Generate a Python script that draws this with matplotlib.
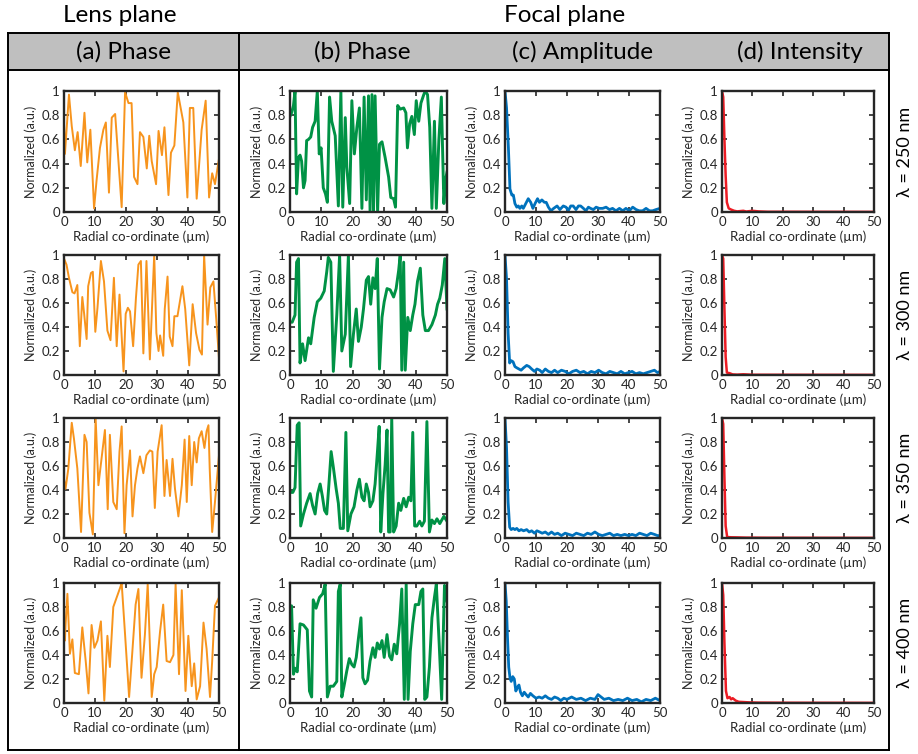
import matplotlib
matplotlib.use("Agg")
import matplotlib.pyplot as plt
from matplotlib.patches import Rectangle
from matplotlib.lines import Line2D
from matplotlib.ticker import FuncFormatter

plt.rcParams['font.family'] = ['Lato', 'DejaVu Sans']

# ---------------- data ----------------
wavelength_labels = ["λ = 250 nm", "λ = 300 nm", "λ = 350 nm", "λ = 400 nm"]
column_titles = ["(a) Phase", "(b) Phase", "(c) Amplitude", "(d) Intensity"]
group_titles = ["Lens plane", "Focal plane"]
x_label = "Radial co-ordinate (µm)"
y_label = "Normalized (a.u.)"
x_ticks = [0, 10, 20, 30, 40, 50]
y_ticks = [0, 0.2, 0.4, 0.6, 0.8, 1]

# (a) lens-plane phase
lens_x_250 = [0, 0.3, 1.6, 2.5, 3.5, 4.4, 5.4, 6.6, 7.5, 8.5, 9.7, 10.5, 11.6, 12.7, 13.5, 14.5, 15.4, 16.5, 18.6, 19.7, 20.8, 21.8, 22.6, 23.7, 24.5, 25.6, 26.7, 27.5, 28.3, 29.7, 30.5, 31.6, 32.4, 33.7, 34.5, 35.6, 36.7, 38.5, 39.8, 40.6, 41.7, 42.8, 44.4, 45.7, 46.8, 47.8, 48.7, 50]
lens_y_250 = [0.73, 0.48, 0.97, 0.71, 0.51, 0.66, 0.38, 0.82, 0.41, 0.68, 0.03, 0.26, 0.53, 0.68, 0.74, 0.16, 0.78, 0.81, 0.04, 0.99, 0.90, 0.90, 0.29, 0.23, 0.66, 0.62, 0.36, 0.63, 0.42, 0.23, 0.67, 0.47, 0.70, 0.14, 0.49, 0.55, 0.99, 0.74, 0.12, 0.86, 0.86, 0.11, 0.68, 0.92, 0.12, 0.32, 0.23, 0.44]

lens_x_300 = [0, 0.8, 1.6, 2.7, 3.4, 4.3, 5.1, 5.9, 6.5, 7.3, 7.8, 8.7, 9.3, 10.1, 10.8, 11.9, 12.9, 14.0, 15.0, 16.1, 17.0, 17.9, 19.2, 19.9, 20.6, 21.3, 22.3, 23.2, 24.0, 24.8, 25.6, 26.6, 27.7, 29.1, 29.8, 30.5, 31.0, 32.0, 32.5, 33.4, 34.1, 35.0, 35.6, 36.6, 38.2, 39.1, 40.4, 41.5, 42.6, 43.7, 44.5, 45.2, 46.3, 47.2, 48.2, 49.1, 50]
lens_y_300 = [0.97, 0.92, 0.81, 0.69, 0.68, 0.75, 0.24, 0.65, 0.51, 0.30, 0.74, 0.85, 0.86, 0.36, 0.56, 0.95, 0.78, 0.37, 0.29, 0.81, 0.24, 0.67, 0.03, 0.51, 0.56, 0.53, 0.24, 0.64, 0.92, 0.95, 0.18, 0.95, 0.13, 1.00, 0.35, 0.20, 0.33, 0.16, 0.55, 0.82, 0.32, 0.24, 0.49, 0.49, 0.74, 0.55, 0.08, 0.59, 0.35, 0.21, 0.17, 1.00, 0.42, 0.73, 0.78, 0.47, 0.14]

lens_x_350 = [0, 0.5, 1.4, 2.5, 3.2, 4.3, 5.5, 6.6, 7.3, 8.2, 9.3, 10.2, 11.1, 12.1, 13.2, 14.1, 14.8, 15.9, 17.0, 17.9, 18.6, 19.5, 20.2, 21.3, 22.1, 22.9, 23.7, 24.5, 25.6, 26.6, 27.7, 28.5, 29.3, 30.2, 31.5, 32.4, 33.1, 34.2, 35.0, 35.8, 36.9, 38.0, 38.9, 39.6, 40.4, 41.2, 42.0, 42.8, 43.5, 44.4, 45.3, 46.0, 46.6, 47.0, 47.8, 48.7, 50]
lens_y_350 = [0.49, 0.41, 0.58, 0.96, 0.83, 0.58, 0.05, 0.86, 0.80, 0.21, 0.03, 1.00, 0.44, 0.66, 0.90, 0.24, 0.86, 0.30, 0.24, 0.72, 0.93, 0.04, 0.44, 0.73, 0.18, 0.44, 0.58, 0.68, 0.54, 0.69, 0.73, 0.72, 0.25, 0.72, 0.94, 0.35, 0.65, 0.35, 0.66, 0.41, 0.18, 0.44, 0.82, 0.30, 0.85, 0.44, 0.80, 0.63, 0.83, 0.89, 0.75, 0.89, 0.94, 0.58, 0.05, 0.30, 0.69]

lens_x_400 = [0, 0.3, 0.5, 1.1, 1.9, 2.7, 3.5, 4.8, 5.9, 7.0, 7.9, 8.9, 9.8, 10.8, 11.9, 13.0, 14.0, 14.8, 15.9, 17.0, 18.1, 18.6, 19.7, 21.0, 22.0, 23.1, 24.0, 25.0, 26.1, 27.0, 28.3, 29.1, 29.9, 31.0, 32.0, 33.1, 34.2, 35.3, 36.0, 37.1, 38.0, 39.2, 40.1, 41.2, 42.0, 42.8, 43.9, 45.0, 46.0, 47.1, 47.8, 48.7, 50]
lens_y_400 = [0.71, 0.52, 0.65, 0.91, 0.41, 0.53, 0.25, 0.24, 0.63, 0.35, 0.08, 0.65, 0.46, 0.52, 0.68, 0.02, 0.56, 0.30, 0.80, 0.88, 0.96, 1.00, 0.57, 0.05, 0.41, 0.82, 0.95, 0.21, 0.57, 0.99, 0.05, 0.24, 0.30, 0.60, 0.82, 0.35, 0.34, 0.40, 0.99, 0.24, 0.94, 0.10, 0.56, 0.14, 0.33, 0.03, 0.14, 0.67, 0.45, 0.05, 0.35, 0.81, 0.88]

# (b) focal-plane phase
focal_x_250 = [0, 0.5, 1.1, 1.6, 2.1, 2.7, 3.2, 3.7, 4.3, 4.8, 5.3, 5.9, 6.6, 7.2, 8.0, 8.7, 9.3, 9.9, 10.6, 11.3, 11.9, 12.6, 13.3, 14.4, 15.4, 16.2, 16.8, 17.6, 18.1, 19.0, 19.7, 20.5, 21.3, 22.1, 22.9, 23.6, 24.3, 25.0, 25.5, 26.1, 26.6, 27.1, 27.9, 28.5, 29.3, 30.3, 31.4, 32.1, 33.0, 33.6, 34.3, 35.1, 36.2, 36.9, 37.4, 38.1, 38.8, 39.6, 40.2, 41.0, 41.7, 42.6, 43.1, 43.8, 44.5, 45.2, 46.0, 46.6, 47.4, 48.2, 49.0, 49.5, 50]
focal_y_250 = [0.79, 0.82, 0.88, 1.00, 0.15, 0.45, 0.47, 0.42, 0.20, 0.26, 0.59, 0.60, 0.62, 0.70, 0.75, 1.00, 0.48, 0.53, 0.20, 0.15, 0.08, 0.95, 0.75, 0.63, 0.05, 1.00, 0.04, 0.78, 0.37, 0.07, 0.92, 0.48, 0.70, 0.86, 0.03, 0.95, 0.10, 0.96, 0.00, 0.97, 0.00, 0.96, 0.00, 0.56, 0.58, 0.45, 0.29, 0.12, 0.11, 0.04, 0.88, 0.85, 0.86, 0.82, 0.53, 0.73, 0.79, 0.64, 0.92, 0.75, 0.90, 0.97, 1.00, 0.97, 0.70, 0.03, 0.75, 0.03, 0.59, 0.95, 0.07, 0.26, 0.33]

focal_x_300 = [0, 0.7, 1.6, 2.1, 2.7, 3.2, 4.0, 4.8, 5.9, 6.6, 7.7, 8.7, 9.8, 10.9, 11.7, 12.2, 13.0, 13.8, 14.9, 15.8, 16.5, 17.6, 18.6, 19.3, 20.2, 21.1, 21.8, 22.7, 23.4, 24.3, 25.0, 25.7, 26.4, 27.1, 27.8, 28.5, 29.3, 30.0, 30.9, 31.9, 33.0, 33.8, 34.6, 35.1, 35.6, 36.2, 36.7, 37.5, 38.3, 39.1, 39.8, 40.6, 41.5, 42.3, 43.1, 44.1, 45.2, 46.3, 47.0, 47.7, 48.5, 49.3, 50]
focal_y_300 = [0.44, 0.44, 0.50, 0.94, 0.97, 0.10, 0.26, 0.12, 0.31, 0.26, 0.48, 0.61, 0.64, 0.70, 0.86, 0.98, 0.94, 0.03, 0.50, 1.00, 0.20, 0.34, 1.00, 0.07, 0.34, 0.55, 0.28, 0.40, 0.55, 0.79, 0.82, 0.59, 0.81, 0.72, 0.97, 0.05, 0.48, 0.61, 0.72, 0.71, 0.65, 0.72, 0.87, 1.00, 0.04, 0.94, 0.04, 0.48, 0.37, 0.50, 0.59, 0.78, 0.89, 0.50, 0.37, 0.37, 0.42, 0.50, 0.59, 0.64, 0.75, 0.97, 0.55]

focal_x_350 = [0, 0.9, 1.6, 2.3, 2.9, 3.4, 4.3, 5.3, 6.4, 7.2, 8.0, 8.8, 9.6, 10.3, 11.0, 11.7, 12.4, 13.1, 13.8, 14.7, 15.4, 16.0, 17.0, 17.8, 18.4, 19.4, 20.4, 21.3, 22.1, 22.9, 23.6, 24.3, 25.0, 25.5, 26.4, 27.1, 27.8, 28.4, 28.9, 29.6, 30.3, 30.9, 31.4, 31.9, 32.4, 33.0, 33.8, 34.6, 35.3, 36.2, 37.0, 37.8, 38.5, 39.1, 39.7, 40.4, 41.3, 42.0, 42.8, 43.6, 44.4, 45.2, 46.0, 46.8, 47.7, 49.0, 50]
focal_y_350 = [0.38, 0.38, 0.42, 0.94, 0.96, 0.10, 0.20, 0.29, 0.37, 0.27, 0.20, 0.37, 0.45, 0.35, 0.23, 0.20, 0.45, 0.72, 0.59, 0.41, 0.29, 0.08, 0.08, 0.88, 0.06, 0.20, 0.26, 0.40, 0.49, 0.34, 0.31, 0.45, 0.38, 0.26, 0.31, 0.45, 0.70, 0.93, 0.05, 0.37, 0.61, 0.90, 0.05, 0.05, 1.00, 0.05, 0.10, 0.29, 0.23, 0.33, 0.26, 0.34, 0.31, 0.88, 0.10, 0.10, 0.14, 0.10, 0.14, 0.97, 0.05, 0.15, 0.12, 0.16, 0.12, 0.18, 0.14]

focal_x_400 = [0, 0.5, 1.1, 1.6, 2.3, 3.2, 4.3, 5.5, 6.2, 6.9, 7.4, 8.3, 9.4, 10.4, 11.2, 11.9, 12.8, 13.8, 14.9, 15.4, 16.0, 16.5, 17.2, 18.1, 18.9, 19.7, 20.4, 21.1, 21.8, 22.6, 23.2, 23.9, 24.7, 25.5, 26.4, 27.1, 27.8, 28.5, 29.3, 30.0, 30.9, 31.7, 32.4, 33.2, 34.0, 34.9, 35.6, 36.4, 37.0, 37.6, 38.3, 39.1, 39.9, 41.0, 41.7, 42.3, 42.9, 43.6, 44.4, 45.2, 46.0, 46.6, 47.5, 48.3, 49.2, 50]
focal_y_400 = [0.78, 0.81, 0.24, 0.29, 0.26, 0.66, 0.65, 0.61, 0.10, 0.05, 0.86, 0.79, 0.88, 0.91, 0.99, 0.05, 0.14, 0.14, 0.18, 0.93, 0.99, 0.05, 0.14, 0.27, 0.37, 0.32, 0.30, 0.38, 0.54, 0.71, 0.21, 0.16, 0.19, 0.35, 0.46, 0.38, 0.50, 0.45, 0.52, 0.38, 0.57, 0.39, 0.36, 0.49, 0.41, 0.66, 0.95, 0.03, 0.99, 0.03, 0.43, 0.66, 0.82, 0.82, 0.93, 0.95, 0.03, 0.05, 0.30, 0.71, 0.88, 0.99, 0.50, 0.03, 0.98, 0.85]

# (c) focal-plane amplitude
amp_x_250 = [0, 0.5, 1.1, 1.6, 2.2, 2.7, 3.2, 3.8, 4.3, 4.8, 5.4, 5.9, 6.7, 7.5, 8.3, 9.0, 9.7, 10.5, 11.1, 11.9, 12.7, 13.3, 14.0, 14.8, 15.7, 16.8, 17.7, 18.8, 19.7, 20.4, 21.2, 22.0, 22.9, 23.7, 24.4, 25.3, 26.1, 26.9, 27.6, 28.5, 29.4, 30.4, 31.5, 32.6, 33.7, 34.7, 35.8, 36.9, 38.0, 39.0, 40.1, 41.2, 42.3, 43.3, 44.4, 45.5, 46.6, 47.6, 48.7, 50]
amp_y_250 = [1.00, 0.86, 0.53, 0.19, 0.14, 0.14, 0.07, 0.04, 0.05, 0.03, 0.05, 0.03, 0.07, 0.11, 0.08, 0.03, 0.07, 0.11, 0.08, 0.10, 0.08, 0.08, 0.04, 0.01, 0.03, 0.05, 0.02, 0.05, 0.04, 0.01, 0.05, 0.05, 0.02, 0.05, 0.05, 0.03, 0.01, 0.04, 0.03, 0.02, 0.04, 0.03, 0.03, 0.04, 0.02, 0.03, 0.01, 0.03, 0.01, 0.03, 0.01, 0.04, 0.02, 0.01, 0.01, 0.03, 0.01, 0.01, 0.02, 0.03]

amp_x_300 = [0, 0.5, 1.0, 1.5, 2.0, 2.6, 3.2, 3.8, 4.5, 5.2, 6.0, 7.0, 7.8, 8.6, 9.5, 10.3, 11.2, 12.0, 13.0, 14.0, 15.0, 16.0, 17.0, 18.2, 19.4, 20.6, 21.8, 23.0, 24.2, 25.4, 26.6, 27.8, 29.0, 30.2, 31.4, 32.6, 33.8, 35.0, 36.2, 37.4, 38.6, 39.8, 41.0, 42.2, 43.4, 44.6, 45.8, 47.0, 48.2, 49.2, 50]
amp_y_300 = [1.00, 0.80, 0.35, 0.10, 0.12, 0.11, 0.07, 0.06, 0.05, 0.04, 0.06, 0.08, 0.07, 0.05, 0.03, 0.05, 0.04, 0.02, 0.05, 0.03, 0.02, 0.04, 0.02, 0.04, 0.03, 0.01, 0.03, 0.04, 0.02, 0.03, 0.01, 0.03, 0.02, 0.04, 0.02, 0.01, 0.03, 0.02, 0.01, 0.03, 0.01, 0.02, 0.03, 0.01, 0.02, 0.01, 0.02, 0.03, 0.04, 0.02, 0.03]

amp_x_350 = [0, 0.5, 1.0, 1.5, 2.0, 2.6, 3.2, 3.8, 4.5, 5.2, 6.0, 7.0, 7.8, 8.6, 9.5, 10.3, 11.2, 12.0, 13.0, 14.0, 15.0, 16.0, 17.0, 18.2, 19.4, 20.6, 21.8, 23.0, 24.2, 25.4, 26.6, 27.8, 29.0, 30.2, 31.4, 32.6, 33.8, 35.0, 36.2, 37.4, 38.6, 39.8, 41.0, 42.2, 43.4, 44.6, 45.8, 47.0, 48.2, 49.2, 50]
amp_y_350 = [1.00, 0.75, 0.30, 0.09, 0.07, 0.08, 0.07, 0.08, 0.06, 0.07, 0.06, 0.07, 0.05, 0.06, 0.04, 0.06, 0.05, 0.04, 0.05, 0.03, 0.05, 0.03, 0.04, 0.02, 0.04, 0.03, 0.02, 0.04, 0.03, 0.02, 0.04, 0.03, 0.05, 0.03, 0.02, 0.03, 0.04, 0.02, 0.03, 0.02, 0.03, 0.02, 0.03, 0.02, 0.04, 0.03, 0.02, 0.04, 0.03, 0.02, 0.02]

amp_x_400 = [0, 0.4, 0.8, 1.2, 1.6, 2.0, 2.5, 3.0, 3.5, 4.0, 4.5, 5.0, 5.6, 6.2, 6.8, 7.5, 8.2, 9.0, 10.0, 11.0, 12.0, 13.0, 14.0, 15.0, 16.0, 17.0, 18.0, 19.0, 20.0, 21.5, 23.0, 24.5, 26.0, 27.5, 29.0, 30.0, 31.0, 32.0, 33.5, 35.0, 36.5, 38.0, 39.5, 41.0, 42.5, 44.0, 45.5, 47.0, 48.5, 50]
amp_y_400 = [1.00, 0.85, 0.55, 0.30, 0.21, 0.18, 0.22, 0.20, 0.10, 0.13, 0.15, 0.09, 0.06, 0.09, 0.07, 0.05, 0.08, 0.06, 0.04, 0.05, 0.04, 0.06, 0.04, 0.03, 0.05, 0.04, 0.02, 0.04, 0.03, 0.05, 0.03, 0.04, 0.02, 0.04, 0.03, 0.07, 0.05, 0.03, 0.04, 0.02, 0.03, 0.02, 0.04, 0.02, 0.03, 0.01, 0.03, 0.02, 0.04, 0.02]

# (d) focal-plane intensity
int_x_250 = [0, 0.4, 0.8, 1.2, 1.6, 2.2, 3.0, 4.0, 5.0, 7.0, 8.0, 10.0, 12.0, 15.0, 20.0, 50]
int_y_250 = [1.00, 0.95, 0.60, 0.30, 0.08, 0.03, 0.02, 0.01, 0.005, 0.01, 0.004, 0.01, 0.005, 0.002, 0.002, 0.001]
int_x_300 = [0, 0.4, 0.8, 1.2, 1.6, 2.5, 3.5, 5.0, 7.0, 10.0, 50]
int_y_300 = [1.00, 0.97, 0.55, 0.15, 0.02, 0.015, 0.005, 0.003, 0.006, 0.002, 0.001]
int_x_350 = [0, 0.4, 0.8, 1.2, 1.7, 3.0, 5.0, 8.0, 15.0, 50]
int_y_350 = [1.00, 0.95, 0.50, 0.10, 0.008, 0.006, 0.005, 0.003, 0.002, 0.001]
int_x_400 = [0, 0.4, 0.8, 1.3, 1.8, 2.5, 3.0, 3.5, 4.5, 5.5, 7.0, 9.0, 12.0, 20.0, 50]
int_y_400 = [1.00, 0.90, 0.50, 0.10, 0.04, 0.05, 0.03, 0.04, 0.02, 0.01, 0.008, 0.005, 0.003, 0.002, 0.001]

series = [
    [(lens_x_250, lens_y_250), (focal_x_250, focal_y_250), (amp_x_250, amp_y_250), (int_x_250, int_y_250)],
    [(lens_x_300, lens_y_300), (focal_x_300, focal_y_300), (amp_x_300, amp_y_300), (int_x_300, int_y_300)],
    [(lens_x_350, lens_y_350), (focal_x_350, focal_y_350), (amp_x_350, amp_y_350), (int_x_350, int_y_350)],
    [(lens_x_400, lens_y_400), (focal_x_400, focal_y_400), (amp_x_400, amp_y_400), (int_x_400, int_y_400)],
]

# ---------------- style / layout ----------------
W, H = 918, 754
col_colors = ["#F7941D", "#009245", "#0072BD", "#ED1C24"]
col_lw = [1.4, 2.1, 2.0, 1.8]
col_x = [(64, 219), (290, 447), (505, 660), (722, 874)]
row_y = [(91, 212), (255, 375), (418, 538), (583, 703)]
header_centers = [123, 362, 582, 800]

fig = plt.figure(figsize=(W / 100, H / 100), dpi=100)


def fx(px):
    return px / W


def fy(py):
    return 1 - py / H


fmt = FuncFormatter(lambda v, p: ("%g" % round(v, 2)))

for r in range(4):
    for c in range(4):
        x0, x1 = col_x[c]
        y0, y1 = row_y[r]
        ax = fig.add_axes([fx(x0), fy(y1), fx(x1 - x0), (y1 - y0) / H])
        xs, ys = series[r][c]
        ax.plot(xs, ys, color=col_colors[c], lw=col_lw[c], solid_joinstyle='round')
        ax.set_xlim(0, 50)
        ax.set_ylim(0, 1)
        ax.set_xticks(x_ticks)
        ax.set_yticks(y_ticks)
        ax.xaxis.set_major_formatter(fmt)
        ax.yaxis.set_major_formatter(fmt)
        ax.tick_params(direction='in', length=3.5, width=1.2, colors='#262626',
                       top=True, right=True, labelsize=9.5, pad=3,
                       labelcolor='#262626')
        for s in ax.spines.values():
            s.set_linewidth(1.7)
            s.set_color('#262626')
        ax.set_xlabel(x_label, fontsize=9.5, color='#262626', labelpad=2)
        ax.set_ylabel(y_label, fontsize=9, color='#262626', labelpad=3)

# ---------------- table frame ----------------
frame_left, frame_right, frame_top, frame_bottom = 8, 889, 33, 750
header_bottom = 70
divider_x = 239

fig.patches.append(Rectangle((fx(frame_left), fy(header_bottom)),
                             fx(frame_right - frame_left), (header_bottom - frame_top) / H,
                             transform=fig.transFigure, facecolor='#BFBFBF',
                             edgecolor='none', zorder=0))
lw_frame = 1.4
for (xa, ya, xb, yb) in [
    (frame_left, frame_top, frame_right, frame_top),
    (frame_left, header_bottom, frame_right, header_bottom),
    (frame_left, frame_bottom, frame_right, frame_bottom),
    (frame_left, frame_top, frame_left, frame_bottom),
    (frame_right, frame_top, frame_right, frame_bottom),
    (divider_x, frame_top, divider_x, frame_bottom),
]:
    fig.lines.append(Line2D([fx(xa), fx(xb)], [fy(ya), fy(yb)],
                            transform=fig.transFigure, color='black', lw=lw_frame))

for t, xc in zip(column_titles, header_centers):
    fig.text(fx(xc), fy(52), t, ha='center', va='center', fontsize=17.5, color='black')

fig.text(fx(120), fy(15), group_titles[0], ha='center', va='center', fontsize=17.5)
fig.text(fx(565), fy(15), group_titles[1], ha='center', va='center', fontsize=17.5)

for r, lab in enumerate(wavelength_labels):
    y0, y1 = row_y[r]
    fig.text(fx(905), fy((y0 + y1) / 2), lab, rotation=90, ha='center', va='center',
             fontsize=13)

fig.savefig("out.png", dpi=100)
